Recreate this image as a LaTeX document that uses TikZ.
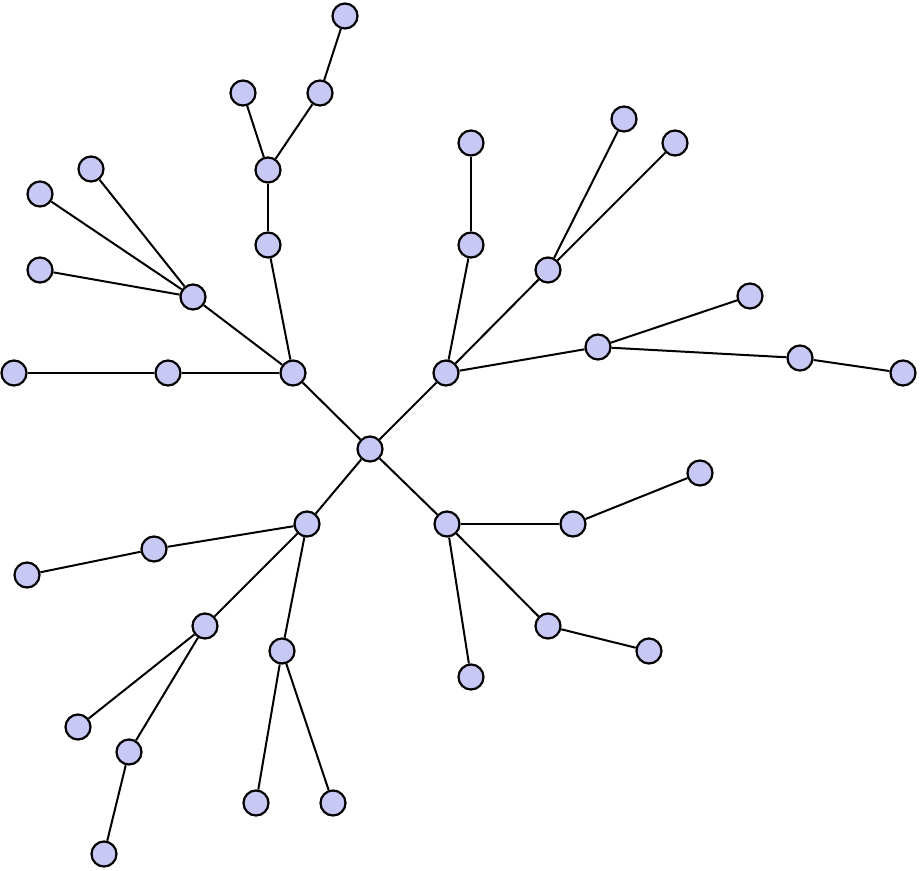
\documentclass[tikz,border=0pt]{standalone}
\definecolor{nodefill}{RGB}{200,200,245}
\tikzset{vertex/.style={circle,draw=black,line width=2.2pt,fill=nodefill,minimum size=25pt,inner sep=0pt}}
\begin{document}
\begin{tikzpicture}[x=1pt,y=-1pt,line join=bevel,]
\useasboundingbox (0,0) rectangle (920,870);
%%
  \node (node_0) at (370,449) [vertex] {};
  \node (node_1) at (293,373) [vertex] {};
  \node (node_2) at (446,373) [vertex] {};
  \node (node_3) at (307,524) [vertex] {};
  \node (node_4) at (447,524) [vertex] {};

  \node (node_5) at (268,245) [vertex] {};
  \node (node_6) at (268,170) [vertex] {};
  \node (node_7) at (243,93) [vertex] {};
  \node (node_8) at (320,93) [vertex] {};
  \node (node_9) at (345,16) [vertex] {};
  \node (node_10) at (193,297) [vertex] {};
  \node (node_11) at (40,194) [vertex] {};
  \node (node_12) at (91,169) [vertex] {};
  \node (node_13) at (40,270) [vertex] {};
  \node (node_14) at (168,373) [vertex] {};
  \node (node_15) at (14,373) [vertex] {};

  \node (node_16) at (471,245) [vertex] {};
  \node (node_17) at (471,143) [vertex] {};
  \node (node_18) at (548,270) [vertex] {};
  \node (node_19) at (624,119) [vertex] {};
  \node (node_20) at (675,143) [vertex] {};
  \node (node_21) at (598,347) [vertex] {};
  \node (node_22) at (750,296) [vertex] {};
  \node (node_23) at (800,358) [vertex] {};
  \node (node_24) at (903,373) [vertex] {};

  \node (node_25) at (154,549) [vertex] {};
  \node (node_26) at (27,575) [vertex] {};
  \node (node_27) at (205,626) [vertex] {};
  \node (node_28) at (78,727) [vertex] {};
  \node (node_29) at (129,752) [vertex] {};
  \node (node_30) at (104,854) [vertex] {};
  \node (node_31) at (282,651) [vertex] {};
  \node (node_32) at (256,803) [vertex] {};
  \node (node_33) at (333,803) [vertex] {};

  \node (node_34) at (573,524) [vertex] {};
  \node (node_35) at (700,473) [vertex] {};
  \node (node_36) at (548,626) [vertex] {};
  \node (node_37) at (649,651) [vertex] {};
  \node (node_38) at (471,677) [vertex] {};

  \draw [black,line width=2pt] (node_0) edge (node_1);
  \draw [black,line width=2pt] (node_0) edge (node_2);
  \draw [black,line width=2pt] (node_0) edge (node_3);
  \draw [black,line width=2pt] (node_0) edge (node_4);

  \draw [black,line width=2pt] (node_1) edge (node_5);
  \draw [black,line width=2pt] (node_5) edge (node_6);
  \draw [black,line width=2pt] (node_6) edge (node_7);
  \draw [black,line width=2pt] (node_6) edge (node_8);
  \draw [black,line width=2pt] (node_8) edge (node_9);
  \draw [black,line width=2pt] (node_1) edge (node_10);
  \draw [black,line width=2pt] (node_10) edge (node_11);
  \draw [black,line width=2pt] (node_10) edge (node_12);
  \draw [black,line width=2pt] (node_10) edge (node_13);
  \draw [black,line width=2pt] (node_1) edge (node_14);
  \draw [black,line width=2pt] (node_14) edge (node_15);

  \draw [black,line width=2pt] (node_2) edge (node_16);
  \draw [black,line width=2pt] (node_16) edge (node_17);
  \draw [black,line width=2pt] (node_2) edge (node_18);
  \draw [black,line width=2pt] (node_18) edge (node_19);
  \draw [black,line width=2pt] (node_18) edge (node_20);
  \draw [black,line width=2pt] (node_2) edge (node_21);
  \draw [black,line width=2pt] (node_21) edge (node_22);
  \draw [black,line width=2pt] (node_21) edge (node_23);
  \draw [black,line width=2pt] (node_23) edge (node_24);

  \draw [black,line width=2pt] (node_3) edge (node_25);
  \draw [black,line width=2pt] (node_25) edge (node_26);
  \draw [black,line width=2pt] (node_3) edge (node_27);
  \draw [black,line width=2pt] (node_27) edge (node_28);
  \draw [black,line width=2pt] (node_27) edge (node_29);
  \draw [black,line width=2pt] (node_29) edge (node_30);
  \draw [black,line width=2pt] (node_3) edge (node_31);
  \draw [black,line width=2pt] (node_31) edge (node_32);
  \draw [black,line width=2pt] (node_31) edge (node_33);

  \draw [black,line width=2pt] (node_4) edge (node_34);
  \draw [black,line width=2pt] (node_34) edge (node_35);
  \draw [black,line width=2pt] (node_4) edge (node_36);
  \draw [black,line width=2pt] (node_36) edge (node_37);
  \draw [black,line width=2pt] (node_4) edge (node_38);

\end{tikzpicture}
\end{document}
